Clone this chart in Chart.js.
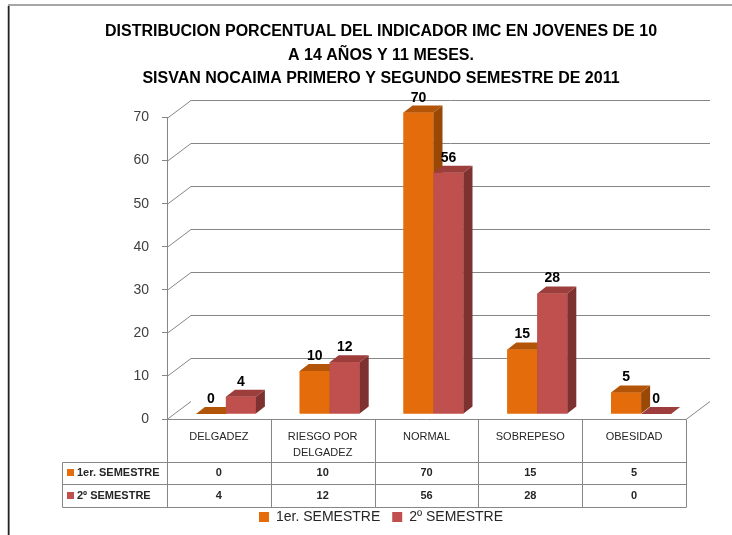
<!DOCTYPE html>
<html>
<head>
<meta charset="utf-8">
<script src="https://cdn.jsdelivr.net/npm/chart.js@4.4.1/dist/chart.umd.min.js"></script>
<style>
  html, body { margin: 0; padding: 0; background: #fff; }
  #wrap { width: 732px; height: 535px; }
</style>
</head>
<body>
<div id="wrap"><canvas id="grafico" width="732" height="535"></canvas></div>
<script>
// Datos
const categorias = ['DELGADEZ', ['RIESGO POR', 'DELGADEZ'], 'NORMAL', 'SOBREPESO', 'OBESIDAD'];
const semestre1 = [0, 10, 70, 15, 5];
const semestre2 = [4, 12, 56, 28, 0];
const nombresSeries = ['1er. SEMESTRE', '2º SEMESTRE'];
const tituloLineas = [
  'DISTRIBUCION PORCENTUAL DEL INDICADOR IMC EN JOVENES DE 10',
  'A 14 AÑOS Y 11 MESES.',
  'SISVAN NOCAIMA PRIMERO Y SEGUNDO SEMESTRE DE 2011'
];
const yMax = 70;
const yPaso = 10;

const FUENTE = '"Liberation Sans", Arial, sans-serif';
const colores = {
  naranja: { frente: '#E46C0A', arriba: '#B35508', lado: '#9A4806' },
  rojo: { frente: '#C0504D', arriba: '#9E3E3C', lado: '#7D3130' }
};
const GRIS = '#868686';

// desplazamiento 3D
const PROF = { dx: 24, dy: -18 };   // pared del fondo
const BARRA = { dx: 9, dy: -7, sx: 7, sy: -5 };

function caras3D(ctx, bar, c) {
  const izq = bar.x - bar.width / 2;
  const der = bar.x + bar.width / 2;
  const top = bar.y;
  const base = bar.base;
  // lado
  ctx.fillStyle = c.lado;
  ctx.beginPath();
  ctx.moveTo(der, top);
  ctx.lineTo(der + BARRA.dx, top + BARRA.dy);
  ctx.lineTo(der + BARRA.dx, base + BARRA.dy);
  ctx.lineTo(der, base);
  ctx.closePath();
  ctx.fill();
  // techo
  ctx.fillStyle = c.arriba;
  ctx.beginPath();
  ctx.moveTo(izq, top);
  ctx.lineTo(der, top);
  ctx.lineTo(der + BARRA.dx, top + BARRA.dy);
  ctx.lineTo(izq + BARRA.dx, top + BARRA.dy);
  ctx.closePath();
  ctx.fill();
}

// Marco, pared del fondo, barras 3D y tabla
const fondo3D = {
  id: 'fondo3D',
  beforeDraw(chart) {
    const ctx = chart.ctx;
    const y = chart.scales.y;
    const area = chart.chartArea;
    ctx.save();
    ctx.fillStyle = '#fff';
    ctx.fillRect(0, 0, chart.width, chart.height);

    // marco
    ctx.strokeStyle = '#a6a6a6';
    ctx.lineWidth = 2;
    ctx.beginPath();
    ctx.moveTo(9, 535);
    ctx.lineTo(9, 5);
    ctx.lineTo(732, 5);
    ctx.stroke();
    ctx.strokeStyle = '#222';
    ctx.lineWidth = 1.5;
    ctx.beginPath();
    ctx.moveTo(8.5, 535);
    ctx.lineTo(8.5, 6);
    ctx.stroke();

    ctx.strokeStyle = GRIS;
    ctx.lineWidth = 1;
    for (let v = 0; v <= yMax; v += yPaso) {
      const py = Math.round(y.getPixelForValue(v)) + 0.5;
      ctx.beginPath();
      ctx.moveTo(area.left, py);
      ctx.lineTo(area.left + PROF.dx, py + PROF.dy);
      if (v > 0) ctx.lineTo(area.right + PROF.dx, py + PROF.dy);
      ctx.stroke();
    }
    // piso
    const base = Math.round(y.getPixelForValue(0)) + 0.5;
    ctx.beginPath();
    ctx.moveTo(area.left, base);
    ctx.lineTo(area.right, base);
    ctx.lineTo(area.right + PROF.dx, base + PROF.dy);
    ctx.stroke();
    ctx.restore();
  },

  beforeDatasetsDraw(chart) {
    chart.ctx.save();
    chart.ctx.translate(BARRA.sx, BARRA.sy);
  },

  afterDatasetsDraw(chart) {
    const ctx = chart.ctx;
    // se redibujan en orden de serie para que el rojo tape el lado del naranja
    chart.data.datasets.forEach((ds, i) => {
      chart.getDatasetMeta(i).data.forEach(bar => {
        bar.draw(ctx, chart.chartArea);
        caras3D(ctx, bar, ds.colores3D);
      });
    });
    // etiquetas de valor
    ctx.fillStyle = '#000';
    ctx.font = 'bold 14px ' + FUENTE;
    ctx.textAlign = 'center';
    ctx.textBaseline = 'alphabetic';
    chart.data.datasets.forEach((ds, i) => {
      chart.getDatasetMeta(i).data.forEach((bar, j) => {
        ctx.fillText(String(ds.data[j]), bar.x, bar.y - 11);
      });
    });
    ctx.restore();
  },

  // tabla de datos debajo del grafico
  afterDraw(chart) {
    const ctx = chart.ctx;
    const x = chart.scales.x;
    const area = chart.chartArea;
    const n = categorias.length;
    const ancho = (area.right - area.left) / n;
    const y0 = Math.round(area.bottom) + 0.5;
    const y1 = 462.5, y2 = 484.5, y3 = 507.5;
    const izqTabla = 62.5;

    ctx.save();
    ctx.strokeStyle = GRIS;
    ctx.lineWidth = 1;
    ctx.beginPath();
    for (let i = 0; i <= n; i++) {
      const px = Math.round(area.left + i * ancho) + 0.5;
      ctx.moveTo(px, y0);
      ctx.lineTo(px, y3);
    }
    ctx.moveTo(izqTabla, y1); ctx.lineTo(area.right, y1);
    ctx.moveTo(izqTabla, y2); ctx.lineTo(area.right, y2);
    ctx.moveTo(izqTabla, y3); ctx.lineTo(area.right, y3);
    ctx.moveTo(izqTabla, y1); ctx.lineTo(izqTabla, y3);
    ctx.stroke();

    ctx.fillStyle = '#262626';
    ctx.textAlign = 'center';
    ctx.textBaseline = 'middle';
    ctx.font = '11px ' + FUENTE;
    categorias.forEach((cat, i) => {
      const cx = x.getPixelForValue(i);
      const lineas = Array.isArray(cat) ? cat : [cat];
      lineas.forEach((t, k) => ctx.fillText(t, cx, 437 + k * 16));
    });

    ctx.font = 'bold 11px ' + FUENTE;
    const filas = [semestre1, semestre2];
    const centros = [473, 496];
    const cuadros = [colores.naranja.frente, colores.rojo.frente];
    filas.forEach((fila, r) => {
      fila.forEach((v, i) => ctx.fillText(String(v), x.getPixelForValue(i), centros[r]));
      ctx.fillStyle = cuadros[r];
      ctx.fillRect(67, centros[r] - 4, 7, 7);
      ctx.fillStyle = '#262626';
      ctx.textAlign = 'left';
      ctx.fillText(nombresSeries[r], 77, centros[r]);
      ctx.textAlign = 'center';
    });
    ctx.restore();
  }
};

new Chart(document.getElementById('grafico'), {
  type: 'bar',
  data: {
    labels: categorias,
    datasets: [
      {
        label: nombresSeries[0],
        data: semestre1,
        backgroundColor: colores.naranja.frente,
        colores3D: colores.naranja,
        clip: false
      },
      {
        label: nombresSeries[1],
        data: semestre2,
        backgroundColor: colores.rojo.frente,
        colores3D: colores.rojo,
        clip: false
      }
    ]
  },
  plugins: [fondo3D],
  options: {
    responsive: false,
    animation: false,
    events: [],
    categoryPercentage: 0.578,
    barPercentage: 1,
    layout: { padding: { left: 76, right: 46, top: 0, bottom: 1 } },
    plugins: {
      title: {
        display: true,
        text: tituloLineas,
        color: '#000',
        font: { family: FUENTE, size: 16, weight: 'bold', lineHeight: 1.47 },
        padding: { top: 20, bottom: 27 }
      },
      legend: {
        position: 'bottom',
        labels: {
          color: '#262626',
          font: { family: FUENTE, size: 14 },
          boxWidth: 10,
          boxHeight: 10,
          padding: 12
        }
      },
      tooltip: { enabled: false }
    },
    scales: {
      x: {
        grid: { display: false },
        border: { display: false },
        ticks: { display: false },
        afterFit(s) { s.height = 79; }
      },
      y: {
        min: 0,
        max: yMax,
        ticks: { stepSize: yPaso, color: '#404040', font: { family: FUENTE, size: 14 }, padding: 13 },
        grid: { drawOnChartArea: false, drawTicks: true, tickLength: 5, color: GRIS },
        border: { color: GRIS },
        afterFit(s) { s.width = 167 - 76; }
      }
    }
  }
});
</script>
</body>
</html>
